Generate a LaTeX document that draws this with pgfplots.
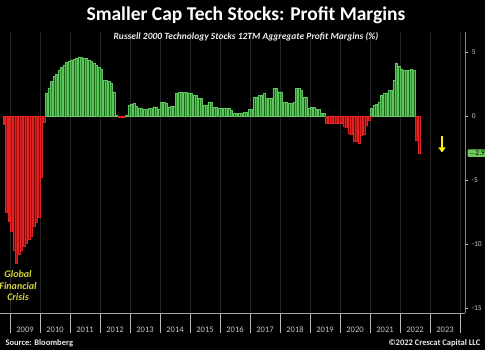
\documentclass[border=0pt]{standalone}
\usepackage{fontspec}
\setmainfont{Carlito}
\usepackage{pgfplots}
\usepackage{pgfplotstable}
\pgfplotsset{compat=1.18}
\usetikzlibrary{arrows.meta}
\definecolor{gfill}{RGB}{40,145,40}
\definecolor{gedge}{RGB}{95,195,95}
\definecolor{rfill}{RGB}{175,12,12}
\definecolor{redge}{RGB}{225,35,35}
\definecolor{gfc}{RGB}{215,215,60}
\definecolor{lbl}{RGB}{200,200,200}
\definecolor{boxg}{RGB}{110,200,90}
% month index: Jan 2009 = 0.5
\pgfplotstableread{
m v
-2.5 -0.6
-1.5 -7.5
-0.5 -8.2
0.5 -9.0
1.5 -10.5
2.5 -11.5
3.5 -10.8
4.5 -10.5
5.5 -10.2
6.5 -9.9
7.5 -9.6
8.5 -9.4
9.5 -8.6
10.5 -8.3
11.5 -7.9
12.5 -4.8
13.5 -0.5
14.5 1.8
15.5 2.2
16.5 2.7
17.5 3.1
18.5 3.3
19.5 3.6
20.5 3.8
21.5 4.0
22.5 4.2
23.5 4.3
24.5 4.4
25.5 4.45
26.5 4.5
27.5 4.6
28.5 4.6
29.5 4.5
30.5 4.5
31.5 4.4
32.5 4.3
33.5 4.1
34.5 4.0
35.5 3.8
36.5 3.7
37.5 2.8
38.5 2.8
39.5 2.7
40.5 2.6
41.5 1.9
42.5 0.05
43.5 -0.1
44.5 -0.1
45.5 -0.1
46.5 0.05
47.5 0.85
48.5 0.95
49.5 1.0
50.5 0.75
51.5 0.65
52.5 0.6
53.5 0.52
54.5 0.52
55.5 0.6
56.5 0.62
57.5 0.73
58.5 0.73
59.5 0.5
60.5 1.1
61.5 1.05
62.5 1.0
63.5 0.7
64.5 0.8
65.5 0.8
66.5 1.8
67.5 1.85
68.5 1.85
69.5 1.85
70.5 1.85
71.5 1.8
72.5 1.75
73.5 1.6
74.5 1.6
75.5 1.4
76.5 1.4
77.5 0.86
78.5 0.86
79.5 1.1
80.5 1.1
81.5 0.7
82.5 0.7
83.5 0.6
84.5 0.6
85.5 0.6
86.5 0.6
87.5 0.6
88.5 0.47
89.5 0.2
90.5 0.2
91.5 0.25
92.5 0.25
93.5 0.3
94.5 0.3
95.5 0.5
96.5 0.5
97.5 1.45
98.5 1.45
99.5 1.6
100.5 1.6
101.5 1.77
102.5 1.4
103.5 1.4
104.5 1.4
105.5 2.2
106.5 2.2
107.5 1.9
108.5 1.9
109.5 1.1
110.5 1.1
111.5 1.0
112.5 1.0
113.5 1.1
114.5 2.2
115.5 2.2
116.5 2.0
117.5 1.5
118.5 1.5
119.5 0.6
120.5 0.7
121.5 0.7
122.5 0.55
123.5 0.5
124.5 0.25
125.5 0.2
126.5 -0.57
127.5 -0.57
128.5 -0.57
129.5 -0.57
130.5 -0.57
131.5 -0.57
132.5 -0.57
133.5 -0.8
134.5 -0.85
135.5 -1.3
136.5 -1.4
137.5 -2.0
138.5 -2.0
139.5 -2.1
140.5 -1.5
141.5 -1.4
142.5 -0.7
143.5 -0.3
144.5 0.6
145.5 0.85
146.5 0.9
147.5 1.1
148.5 1.6
149.5 1.75
150.5 1.8
151.5 2.0
152.5 2.0
153.5 2.8
154.5 4.15
155.5 3.9
156.5 3.7
157.5 3.6
158.5 3.6
159.5 3.6
160.5 3.65
161.5 3.6
162.5 -1.9
163.5 -2.9
}\margins
\begin{document}
\begin{tikzpicture}[x=1pt,y=1pt]
\fill[black] (0,0) rectangle (485,350);
\path[use as bounding box] (0,0) rectangle (485,350);
\begin{axis}[
  at={(0pt,37pt)}, anchor=south west,
  scale only axis, width=465pt, height=281pt,
  xmin=-4, xmax=182, ymin=-15.39, ymax=6.5625,
  axis x line*=bottom, axis y line*=right,
  x axis line style={draw=gray!70, line width=0.5pt, -},
  y axis line style={draw={rgb,255:red,110;green,150;blue,110}, line width=0.8pt, -},
  xtick={0,12,...,180},
  xticklabels={2009,2010,2011,2012,2013,2014,2015,2016,2017,2018,2019,2020,2021,2022,2023},
  x tick label as interval,
  xtick style={draw=gray!55, line width=0.5pt, /pgfplots/major tick length=20pt},
  tick align=outside,
  xticklabel style={font=\fontsize{8.5}{9}\selectfont, text=lbl, yshift=-6pt},
  ytick={-15,-10,-5,0,5},
  yticklabel pos=right,
  ytick style={draw=lbl, line width=0.4pt, /pgfplots/major tick length=3pt},
  yticklabel style={font=\fontsize{7.5}{8}\selectfont, text=lbl, xshift=-1pt},
  /pgf/number format/assume math mode=true,
  xmajorgrids, grid style={draw=black!85!white, line width=0.4pt},
  ybar, bar width=0.7, bar shift=0pt,
  clip=false,
]
\addplot[fill=gfill, draw=gedge, line width=0.25pt, restrict y to domain=0:20] table[x=m,y=v] {\margins};
\addplot[fill=rfill, draw=redge, line width=0.25pt, restrict y to domain=-20:0] table[x=m,y=v] {\margins};
\draw[yellow, line width=2pt, -{Triangle[width=7pt,length=5pt]}] (axis cs:172.8,-1.55) -- (axis cs:172.8,-2.85);
\node[fill=boxg, text=black, inner xsep=1.5pt, inner ysep=1pt, rounded corners=1pt, anchor=west,
  font=\fontsize{7.5}{8}\selectfont] at (axis cs:183,-2.9) {$-$2.9};
\node[text=gfc, font=\bfseries\itshape\fontsize{10}{11.5}\selectfont, align=center, anchor=north]
  at (axis cs:3.2,-11.8) {Global\\Financial\\Crisis};
\end{axis}
\node[text=white, font=\bfseries\fontsize{19.5}{21}\selectfont] at (246,335) {Smaller Cap Tech Stocks: Profit Margins};
\node[text=white!92!black, font=\bfseries\itshape\fontsize{9.5}{10}\selectfont] at (246,313) {Russell 2000 Technology Stocks 12TM Aggregate Profit Margins (\%)};
\node[text=white!92!black, font=\bfseries\fontsize{8.5}{9}\selectfont, anchor=west] at (2,7) {Source: Bloomberg};
\node[text=white!92!black, font=\bfseries\fontsize{8.5}{9}\selectfont, anchor=east] at (484,7) {©2022 Crescat Capital LLC};
\end{tikzpicture}
\end{document}
